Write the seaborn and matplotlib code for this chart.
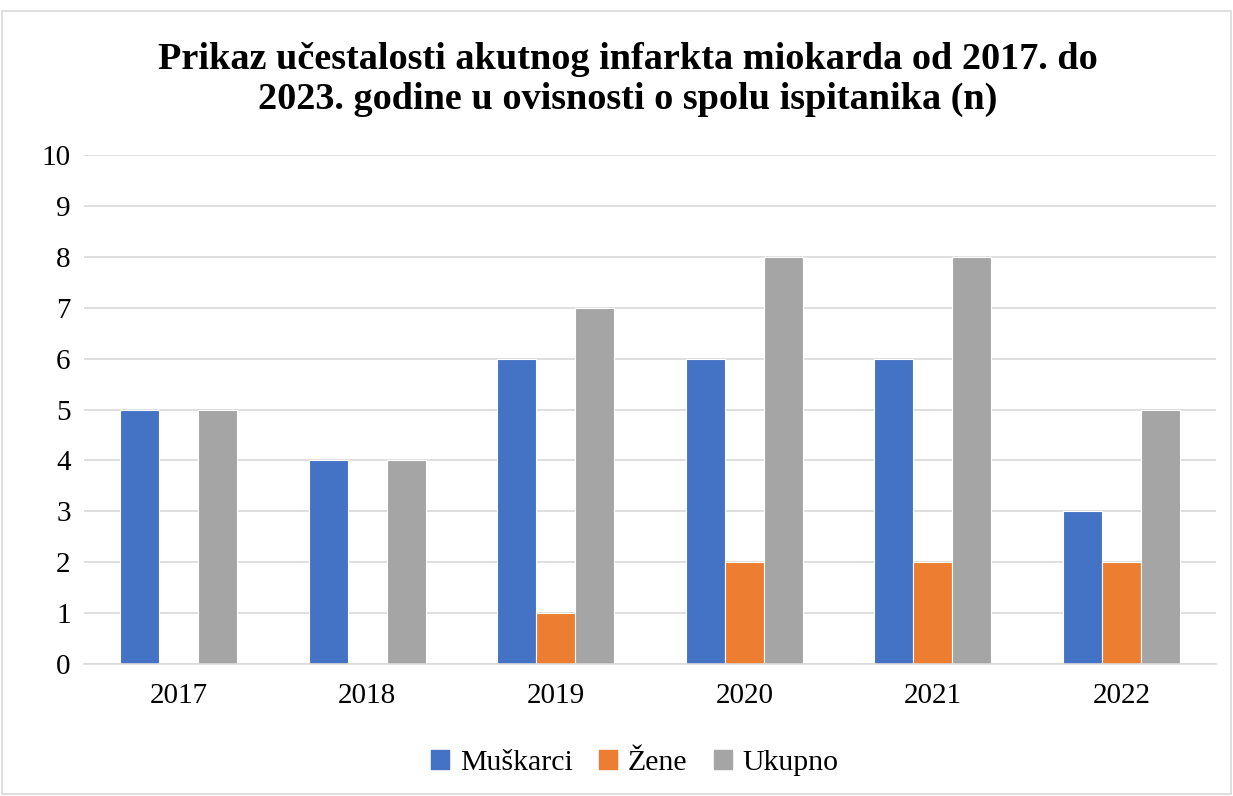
import matplotlib.pyplot as plt
import seaborn as sns
import pandas as pd
from matplotlib.patches import Rectangle

# Chart data
years = ["2017", "2018", "2019", "2020", "2021", "2022"]
muskarci = [5, 4, 6, 6, 6, 3]
zene = [0, 0, 1, 2, 2, 2]
ukupno = [5, 4, 7, 8, 8, 5]
series_names = ["Muškarci", "Žene", "Ukupno"]
colors = ["#4472C4", "#ED7D31", "#A5A5A5"]

df = pd.DataFrame({
    "Godina": years * 3,
    "n": muskarci + zene + ukupno,
    "Spol": [s for s in series_names for _ in years],
})

sns.set_style("white")
plt.rcParams["font.family"] = ["Liberation Serif", "DejaVu Serif"]
plt.rcParams["text.color"] = "black"

fig = plt.figure(figsize=(12.33, 7.96), dpi=100)
ax = fig.add_axes([0.0685, 0.1658, 0.9175, 0.6395])

sns.barplot(data=df, x="Godina", y="n", hue="Spol", palette=colors, saturation=1,
            width=0.62, edgecolor="white", linewidth=0.8, ax=ax)

ax.set_ylim(0, 10)
ax.set_yticks(range(0, 11))
ax.yaxis.grid(True, color="#D9D9D9", linewidth=1.2)
ax.set_axisbelow(True)
ax.set_xlabel("")
ax.set_ylabel("")
ax.tick_params(axis="both", length=0, labelsize=21, colors="black")
ax.tick_params(axis="x", pad=14)
ax.tick_params(axis="y", pad=10)
for side in ["top", "right", "left"]:
    ax.spines[side].set_visible(False)
ax.spines["bottom"].set_color("#D9D9D9")
ax.spines["bottom"].set_linewidth(1.2)

fig.text(0.509, 0.9, "Prikaz učestalosti akutnog infarkta miokarda od 2017. do\n"
         "2023. godine u ovisnosti o spolu ispitanika (n)",
         ha="center", va="center", fontsize=27.5, fontweight="bold",
         linespacing=1.18, color="black")

ax.legend_.remove()
handles = [Rectangle((0, 0), 1, 1, color=c) for c in colors]
fig.legend(handles, series_names, loc="center", bbox_to_anchor=(0.515, 0.041),
           ncol=3, frameon=False, fontsize=21.5, handlelength=0.6, handleheight=0.6,
           handletextpad=0.35, columnspacing=0.9, labelcolor="black")

# chart border
fig.patches.append(Rectangle((0.002, 0.002), 0.996, 0.984, transform=fig.transFigure,
                             fill=False, edgecolor="#D9D9D9", linewidth=1.2))

plt.savefig("out.png", dpi=100)
